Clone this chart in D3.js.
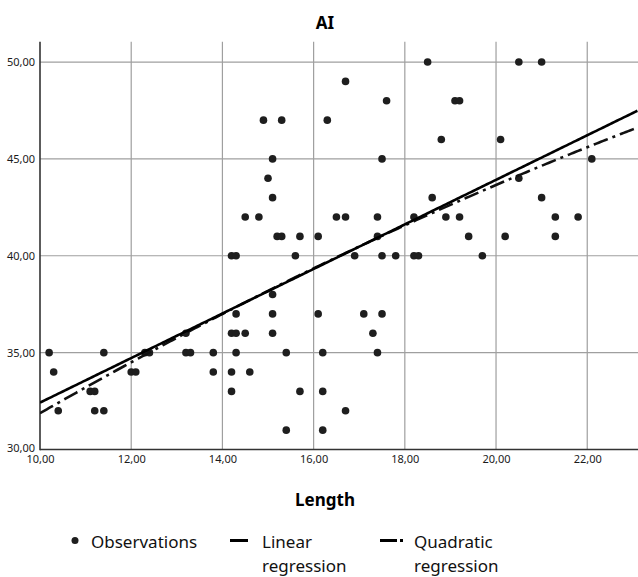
<!DOCTYPE html>
<html>
<head>
<meta charset="utf-8">
<script src="https://cdn.jsdelivr.net/npm/d3@7"></script>
<style>
  html, body { margin: 0; padding: 0; background: #fff; }
  svg { display: block; }
</style>
</head>
<body>
<svg id="chart" width="638" height="577"></svg>
<script>
// ---- data ----
const lengthValues = [
  16.7, 17.6, 14.9, 15.3, 16.3, 15.1, 17.5, 15.0,
  18.5, 20.5, 21.0, 19.1, 19.2, 18.8, 20.1, 22.1, 20.5,
  15.1, 14.5, 14.8, 16.5, 16.7, 17.4, 18.2,
  15.2, 15.3, 15.7, 16.1, 17.4,
  14.2, 14.3, 15.6, 16.9, 17.5, 17.8, 18.2, 18.3,
  15.1, 14.3, 15.1, 16.1, 17.1, 17.5,
  18.6, 18.9, 19.2, 19.4, 20.2, 19.7, 21.0, 21.3, 21.8, 21.3,
  10.2, 10.3, 10.4, 11.4, 11.1, 11.2, 11.2, 11.4, 12.0, 12.1,
  12.3, 12.4, 13.2, 13.3, 13.2, 13.8, 13.8,
  14.2, 14.3, 14.5, 15.1, 17.3,
  14.3, 15.4, 16.2, 17.4,
  14.2, 14.6, 14.2, 15.7, 16.2, 16.7, 15.4, 16.2
];
const aiValues = [
  49, 48, 47, 47, 47, 45, 45, 44,
  50, 50, 50, 48, 48, 46, 46, 45, 44,
  43, 42, 42, 42, 42, 42, 42,
  41, 41, 41, 41, 41,
  40, 40, 40, 40, 40, 40, 40, 40,
  38, 37, 37, 37, 37, 37,
  43, 42, 42, 41, 41, 40, 43, 42, 42, 41,
  35, 34, 32, 35, 33, 33, 32, 32, 34, 34,
  35, 35, 35, 35, 36, 35, 34,
  36, 36, 36, 36, 36,
  35, 35, 35, 35,
  34, 34, 33, 33, 33, 32, 31, 31
];
const xTicks = [10, 12, 14, 16, 18, 20, 22];
const yTicks = [30, 35, 40, 45, 50];
const linearCoef = [20.92, 1.150];              // y = a + b x
const quadraticCoef = [16.694, 1.688, -0.017];  // y = a + b x + c x^2
const legendLabels = [["Observations"], ["Linear", "regression"], ["Quadratic", "regression"]];
const titleText = "AI";
const xTitle = "Length";

// ---- drawing ----
const svg = d3.select("#chart");
const fmt = v => d3.format(".2f")(v).replace(".", ",");

const x = d3.scaleLinear().domain([10, 23.1]).range([40, 637.4]);
const y = d3.scaleLinear().domain([30, 51.05]).range([449.5, 41.7]);

// grid
svg.append("g").selectAll("line").data(xTicks.filter(d => d > 10)).join("line")
  .attr("x1", d => x(d)).attr("x2", d => x(d))
  .attr("y1", y(51.05)).attr("y2", y(30))
  .attr("stroke", "#9f9f9f").attr("stroke-width", 1.2);
svg.append("g").selectAll("line").data(yTicks.filter(d => d > 30)).join("line")
  .attr("x1", x(10)).attr("x2", 638)
  .attr("y1", d => y(d)).attr("y2", d => y(d))
  .attr("stroke", "#9f9f9f").attr("stroke-width", 1.2);

// axes
const xAxis = d3.axisBottom(x).tickValues(xTicks).tickFormat(fmt).tickSize(0).tickPadding(6);
const yAxis = d3.axisLeft(y).tickValues(yTicks).tickFormat(fmt).tickSize(0).tickPadding(5);
const gx = svg.append("g").attr("transform", `translate(0,${y(30)})`).call(xAxis);
const gy = svg.append("g").attr("transform", `translate(${x(10)},0)`).call(yAxis);
[gx, gy].forEach(g => {
  g.select(".domain").remove();
  g.selectAll("text").attr("font-family", "'Noto Sans', sans-serif").attr("font-size", 11).attr("fill", "#1a1a1a");
});
gy.selectAll("text").attr("dy", d => d === 30 ? "0.15em" : "0.35em");
svg.append("line").attr("x1", x(10)).attr("x2", x(10)).attr("y1", y(51.05)).attr("y2", y(30) + 0.75)
  .attr("stroke", "#333").attr("stroke-width", 1.6);
svg.append("line").attr("x1", x(10)).attr("x2", 638).attr("y1", y(30)).attr("y2", y(30))
  .attr("stroke", "#333").attr("stroke-width", 1.6);

// clip
svg.append("clipPath").attr("id", "clip").append("rect")
  .attr("x", x(10)).attr("y", y(51.05)).attr("width", 638 - x(10)).attr("height", y(30) - y(51.05));

// points
svg.append("g").selectAll("circle").data(d3.zip(lengthValues, aiValues)).join("circle")
  .attr("cx", d => x(d[0])).attr("cy", d => y(d[1])).attr("r", 3.8)
  .attr("fill", "#1e1e1e");

// regression lines
const xs = d3.range(10, 23.1001, 0.05);
const linF = v => linearCoef[0] + linearCoef[1] * v;
const quadF = v => quadraticCoef[0] + quadraticCoef[1] * v + quadraticCoef[2] * v * v;
const lineGen = f => d3.line().x(d => x(d)).y(d => y(f(d)));
const gl = svg.append("g").attr("clip-path", "url(#clip)");
gl.append("path").attr("d", lineGen(quadF)(xs)).attr("fill", "none")
  .attr("stroke", "#111").attr("stroke-width", 2.6).attr("stroke-dasharray", "15,5,3,5");
gl.append("path").attr("d", lineGen(linF)(xs)).attr("fill", "none")
  .attr("stroke", "#000").attr("stroke-width", 2.6);

// titles
svg.append("text").attr("x", 325).attr("y", 29).attr("text-anchor", "middle")
  .attr("font-family", "'Noto Sans', sans-serif").attr("font-weight", "bold").attr("font-size", 17)
  .text(titleText);
svg.append("text").attr("x", 325).attr("y", 506).attr("text-anchor", "middle")
  .attr("font-family", "'Noto Sans', sans-serif").attr("font-weight", "bold").attr("font-size", 17)
  .text(xTitle);

// legend
const legX = [75, 230, 380];
const lg = svg.append("g").attr("font-family", "'Noto Sans', sans-serif").attr("font-size", 17).attr("fill", "#111");
lg.append("circle").attr("cx", legX[0]).attr("cy", 540.5).attr("r", 3.5).attr("fill", "#1e1e1e");
lg.append("line").attr("x1", legX[1]).attr("x2", legX[1] + 18).attr("y1", 540.5).attr("y2", 540.5)
  .attr("stroke", "#000").attr("stroke-width", 3);
lg.append("line").attr("x1", legX[2]).attr("x2", legX[2] + 24).attr("y1", 540.5).attr("y2", 540.5)
  .attr("stroke", "#000").attr("stroke-width", 3).attr("stroke-dasharray", "17,3,3,10");
const textX = [91, 262, 414];
legendLabels.forEach((lines, i) => {
  const t = lg.append("text").attr("x", textX[i]).attr("y", 548);
  lines.forEach((s, j) => t.append("tspan").attr("x", textX[i]).attr("dy", j === 0 ? 0 : 24).text(s));
});
</script>
</body>
</html>
